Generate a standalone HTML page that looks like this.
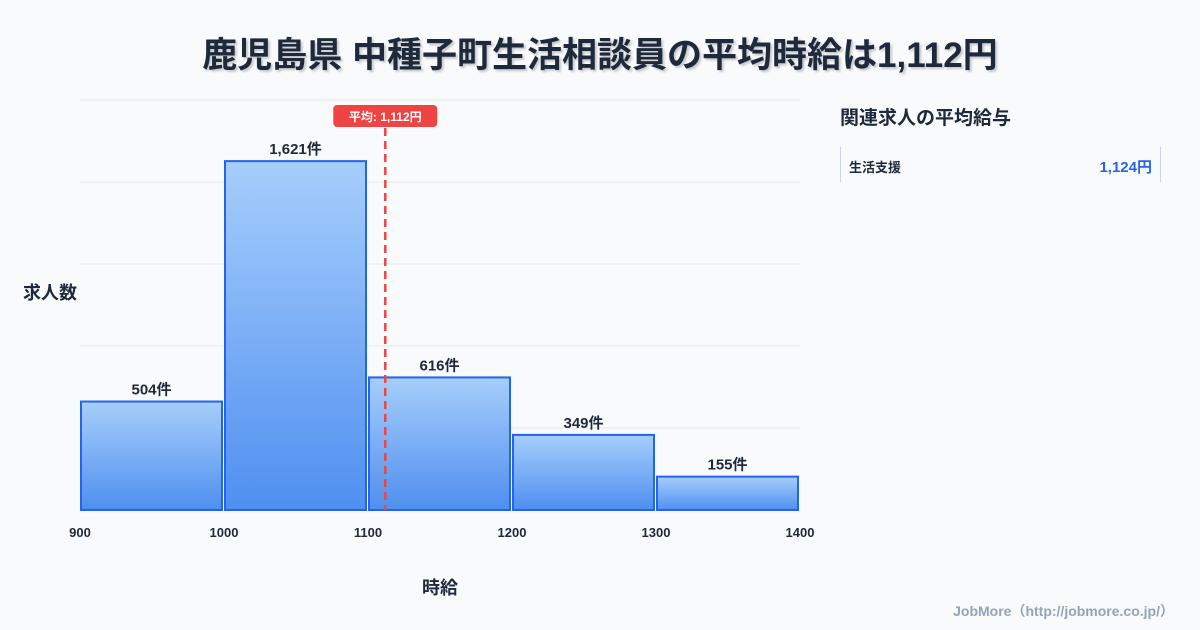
<!DOCTYPE html>
<html><head><meta charset="utf-8"><style>
body{margin:0;width:1200px;height:630px;background:#f8fafc;font-family:"Liberation Sans","Noto Sans CJK JP",sans-serif;overflow:hidden;position:relative}
.t{position:absolute;left:0;width:1200px;top:27px;text-align:center;font-size:35px;font-weight:bold;color:#1e293b;text-shadow:2px 2px 2px rgba(0,0,0,0.2)}
</style></head><body>
<div class="t">鹿児島県 中種子町生活相談員の平均時給は1,112円</div>
<svg id="c" width="1200" height="630" style="position:absolute;left:0;top:0">
<defs><linearGradient id="g" x1="0" y1="0" x2="0" y2="1"><stop offset="0" stop-color="#a6cefb"/><stop offset="1" stop-color="#4f8ff0"/></linearGradient></defs>
</svg>
<div style="position:absolute;left:840px;top:103px;font-size:19px;font-weight:bold;color:#1e293b">関連求人の平均給与</div>
<div style="position:absolute;left:840px;top:147px;width:319px;height:35px;border-left:1px solid #cbd5e1;border-right:1px solid #cbd5e1">
<span style="position:absolute;left:8px;top:10px;font-size:13px;font-weight:bold;color:#1e293b">生活支援</span>
<span style="position:absolute;right:8px;top:9px;font-size:15px;font-weight:bold;color:#2563eb">1,124円</span></div>
<div style="position:absolute;right:26px;top:601px;font-size:14px;font-weight:bold;color:#94a3b8">JobMore（http://jobmore.co.jp/）</div>
<script>
const binStarts=[900,1000,1100,1200,1300];
const counts=[504,1621,616,349,155];
const countLabels=["504件","1,621件","616件","349件","155件"];
const xTicks=[900,1000,1100,1200,1300,1400];
const meanValue=1112;
const meanLabel="平均: 1,112円";
const binWidth=100;
const svg=document.getElementById('c');const NS='http://www.w3.org/2000/svg';
const L=80,R=800,B=510,T=100,yMax=1905;
const x=v=>L+(v-900)/(1400-900)*(R-L);
const y=v=>B-v/yMax*(B-T);
function mk(tag,attrs,txt){const e=document.createElementNS(NS,tag);for(const k in attrs)e.setAttribute(k,attrs[k]);if(txt!==undefined)e.textContent=txt;svg.appendChild(e);return e;}
for(let i=0;i<=5;i++){const gy=T+i*(B-T)/5;const l=mk('line',{x1:L,x2:R,y1:gy,y2:gy,stroke:'#e2e8f0','stroke-width':1});

}
binStarts.forEach((s,i)=>{const x0=x(s)+1,x1=x(s+binWidth)-2,top=y(counts[i]);
const r=mk('rect',{x:x0,y:top,width:x1-x0,height:B-top,fill:'url(#g)',stroke:'#2563eb','stroke-width':2});


const t=mk('text',{x:(x0+x1)/2,y:top-7,'text-anchor':'middle','font-size':15,'font-weight':'bold',fill:'#1e293b'},countLabels[i]);

});
xTicks.forEach(v=>{const t=mk('text',{x:x(v),y:537,'text-anchor':'middle','font-size':13,'font-weight':'bold',fill:'#1e293b'},v);

});
const mx=x(meanValue);
const ml=mk('line',{x1:mx,x2:mx,y1:128,y2:B,stroke:'#ef4444','stroke-width':2.5,'stroke-dasharray':'8,5'});


const mb=mk('rect',{x:mx-52,y:105,width:104,height:22,rx:4,fill:'#ef4444'});


const mt=mk('text',{x:mx,y:121,'text-anchor':'middle','font-size':12,'font-weight':'bold',fill:'#fff'},meanLabel);


const yt=mk('text',{x:50,y:299,'text-anchor':'middle','font-size':18,'font-weight':'bold',fill:'#1e293b'},'求人数');


const xt=mk('text',{x:440,y:594,'text-anchor':'middle','font-size':18,'font-weight':'bold',fill:'#1e293b'},'時給');


</script>
</body></html>
